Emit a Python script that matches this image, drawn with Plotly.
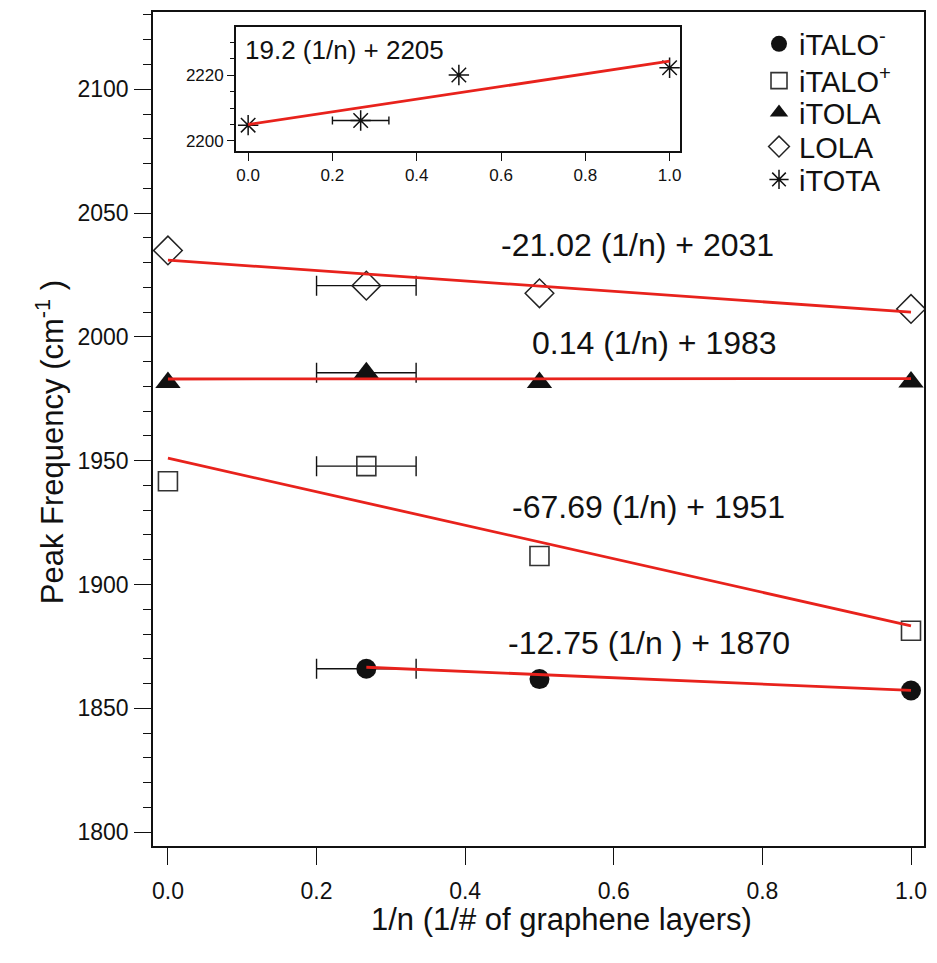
import plotly.graph_objects as go

# 1/n values (n = number of graphene layers); the few-layer point spans n = 3..5
inv_n = [0.0, 0.267, 0.5, 1.0]
inv_n_italo_minus = [0.267, 0.5, 1.0]
inv_n_err = 0.067  # half-width of the 1/n spread for the few-layer sample

# Peak frequencies (cm^-1)
lola = [2034.9, 2020.7, 2017.6, 2011.3]
itola = [1981.6, 1985.5, 1981.6, 1981.8]
italo_plus = [1941.7, 1947.8, 1911.5, 1881.3]
italo_minus = [1866.0, 1861.8, 1857.2]
itota = [2204.8, 2206.2, 2220.0, 2222.2]

# Linear fits: (slope, intercept, x start, x end, label)
fit_lola = (-21.02, 2031, 0.0, 1.0, "-21.02 (1/n) + 2031")
fit_itola = (0.14, 1983, 0.0, 1.0, "0.14 (1/n) + 1983")
fit_italo_plus = (-67.69, 1951, 0.0, 1.0, "-67.69 (1/n) + 1951")
fit_italo_minus = (-12.75, 1870, 0.267, 1.0, "-12.75 (1/n ) + 1870")
fit_itota = (19.2, 2205, 0.0, 1.0, "19.2 (1/n) + 2205")

x_title = "1/n (1/# of graphene layers)"
y_title = "Peak Frequency (cm<sup>-1</sup> )"

FONT = "Liberation Sans, Arial, Helvetica, sans-serif"
RED = "#e8221c"
BLACK = "#111111"
LEGEND_FONT = 29

# one legend box per series so the rows can be packed tightly
legend_rows = ["legend", "legend2", "legend3", "legend4", "legend5"]
legend_row_y = [0.9617, 0.9175, 0.8792, 0.8385, 0.7991]

fig = go.Figure()


def err_trace(x, y, xa="x", ya="y", cap=10):
    """Horizontal error bar on the few-layer point only."""
    return go.Scatter(
        x=[x], y=[y], mode="markers", xaxis=xa, yaxis=ya,
        marker=dict(size=1, opacity=0), showlegend=False, hoverinfo="skip",
        error_x=dict(type="data", array=[inv_n_err], color=BLACK,
                     thickness=1.4, width=cap),
    )


# error bars first so markers sit on top
fig.add_trace(err_trace(inv_n_italo_minus[0], italo_minus[0]))
fig.add_trace(err_trace(inv_n[1], italo_plus[1]))
fig.add_trace(err_trace(inv_n[1], itola[1]))
fig.add_trace(err_trace(inv_n[1], lola[1]))
fig.add_trace(err_trace(inv_n[1], itota[1], "x2", "y2", cap=4))

# data markers (legend entries)
fig.add_trace(go.Scatter(
    x=inv_n_italo_minus, y=italo_minus, mode="markers", name="iTALO<sup>-</sup>",
    legend=legend_rows[0],
    marker=dict(symbol="circle", size=20, color=BLACK),
))
fig.add_trace(go.Scatter(
    x=inv_n, y=italo_plus, mode="markers", name="iTALO<sup>+</sup>",
    legend=legend_rows[1],
    marker=dict(symbol="square-open", size=19, color="#333333",
                line=dict(width=1.6)),
))
fig.add_trace(go.Scatter(
    x=inv_n, y=itola, mode="markers", name="iTOLA",
    legend=legend_rows[2],
    marker=dict(symbol="triangle-up", size=22, color=BLACK),
))
fig.add_trace(go.Scatter(
    x=inv_n, y=lola, mode="markers", name="LOLA",
    legend=legend_rows[3],
    marker=dict(symbol="diamond-open", size=22, color="#222222",
                line=dict(width=1.5)),
))
fig.add_trace(go.Scatter(
    x=inv_n, y=itota, mode="markers", name="iTOTA", xaxis="x2", yaxis="y2",
    legend=legend_rows[4],
    marker=dict(symbol="asterisk-open", size=17, color=BLACK,
                line=dict(width=1.5, color=BLACK)),
))


# fitted lines, drawn from the stated coefficients
def fit_trace(fit, xa="x", ya="y"):
    m, b, x0, x1, _ = fit
    return go.Scatter(
        x=[x0, x1], y=[m * x0 + b, m * x1 + b], mode="lines",
        xaxis=xa, yaxis=ya, line=dict(color=RED, width=2.8),
        showlegend=False, hoverinfo="skip",
    )


for f in (fit_lola, fit_itola, fit_italo_plus, fit_italo_minus):
    fig.add_trace(fit_trace(f))
fig.add_trace(fit_trace(fit_itota, "x2", "y2"))

# fit equations
label_pos = [
    (fit_lola, 0.632, 2037.2),
    (fit_itola, 0.655, 1997.7),
    (fit_italo_plus, 0.647, 1931.2),
    (fit_italo_minus, 0.647, 1876.4),
]
for f, ax, ay in label_pos:
    fig.add_annotation(x=ax, y=ay, xref="x", yref="y", text=f[4],
                       showarrow=False, xanchor="center", yanchor="middle",
                       font=dict(size=32, color=BLACK, family=FONT))
fig.add_annotation(x=-0.012, y=2227.7, xref="x2", yref="y2", text=fit_itota[4],
                   showarrow=False, xanchor="left", yanchor="middle",
                   font=dict(size=26, color=BLACK, family=FONT))

# axis titles
fig.add_annotation(x=0.53, y=-0.0885, xref="paper", yref="paper", text=x_title,
                   showarrow=False, xanchor="center", yanchor="middle",
                   font=dict(size=31, color=BLACK, family=FONT))
fig.add_annotation(x=-0.1334, y=0.4844, xref="paper", yref="paper", text=y_title,
                   textangle=-90, showarrow=False, xanchor="center",
                   yanchor="middle", font=dict(size=31, color=BLACK, family=FONT))

axis_common = dict(showline=True, linecolor=BLACK, linewidth=1.5, mirror=True,
                   showgrid=False, zeroline=False, ticks="outside",
                   tickcolor=BLACK)

layout = dict(
    width=937, height=963,
    margin=dict(l=153, r=12, t=10, b=117),
    paper_bgcolor="white", plot_bgcolor="white",
    font=dict(family=FONT, color=BLACK),
    xaxis=dict(
        **axis_common, range=[-0.0201, 1.0175], tickvals=[0, 0.2, 0.4, 0.6, 0.8, 1.0],
        tickformat=".1f", ticklen=17, tickwidth=1.4, ticklabelstandoff=7,
        tickfont=dict(size=23),
    ),
    yaxis=dict(
        **axis_common, range=[1794.4, 2131.2], dtick=50, ticklen=17,
        tickwidth=1.4, ticklabelstandoff=1, tickfont=dict(size=23),
        minor=dict(dtick=10, ticklen=8, tickwidth=1.4, ticks="outside",
                   tickcolor=BLACK),
    ),
    xaxis2=dict(
        **axis_common, domain=[0.1075, 0.6839], anchor="y2",
        range=[-0.0291, 1.0254], tickvals=[0, 0.2, 0.4, 0.6, 0.8, 1.0],
        tickformat=".1f", ticklen=8, tickwidth=1.2, tickfont=dict(size=17),
    ),
    yaxis2=dict(
        **axis_common, domain=[0.8331, 0.9821], anchor="x2",
        range=[2196.9, 2234.6], tickvals=[2200, 2220], ticklen=7,
        tickwidth=1.2, tickfont=dict(size=17),
        minor=dict(dtick=5, ticklen=4, tickwidth=1.2, ticks="outside",
                   tickcolor=BLACK),
    ),
    showlegend=True,
)
for name, ly in zip(legend_rows, legend_row_y):
    layout[name] = dict(
        x=0.786, y=ly, xanchor="left", yanchor="middle",
        bgcolor="rgba(0,0,0,0)", font=dict(size=LEGEND_FONT, family=FONT),
        itemsizing="trace",
    )
fig.update_layout(**layout)

fig.write_html("out.html")
